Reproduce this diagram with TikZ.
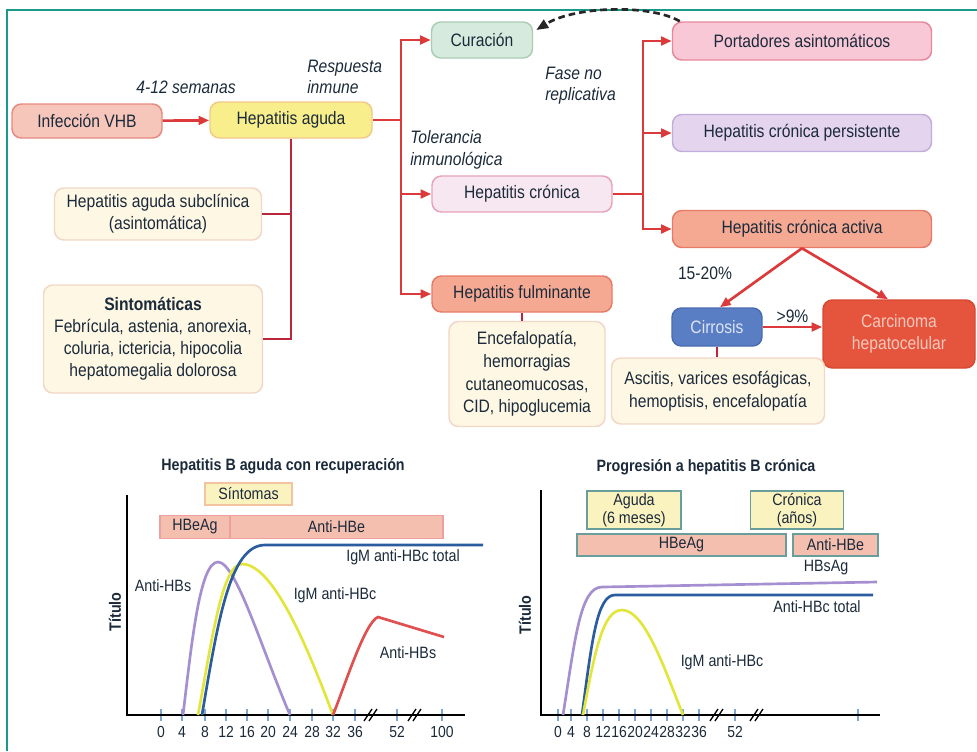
\documentclass[tikz,border=0pt]{standalone}
\usepackage{fontspec}
\setmainfont{Liberation Sans}[FakeStretch=0.87]
\usetikzlibrary{arrows.meta,calc}
\definecolor{txt}{HTML}{1B2A3A}
\definecolor{frameC}{HTML}{1A9A8A}
\definecolor{redl}{HTML}{DC3A3A}
\definecolor{dred}{HTML}{B8283A}
\definecolor{infF}{HTML}{F6C6BB}\definecolor{infD}{HTML}{E68A80}
\definecolor{hagF}{HTML}{F8EF8C}\definecolor{hagD}{HTML}{F2C88A}
\definecolor{curF}{HTML}{D6EBDD}\definecolor{curD}{HTML}{A9CDB5}
\definecolor{hcrF}{HTML}{F7E7F0}\definecolor{hcrD}{HTML}{E7A2B8}
\definecolor{salF}{HTML}{F5A993}\definecolor{salD}{HTML}{E67A66}
\definecolor{porF}{HTML}{F8C8D6}\definecolor{porD}{HTML}{E7879B}
\definecolor{perF}{HTML}{E4D4EE}\definecolor{perD}{HTML}{C3ACDC}
\definecolor{cirF}{HTML}{5A7EC4}\definecolor{cirD}{HTML}{4A6CB0}\definecolor{cirT}{HTML}{DDE5F5}
\definecolor{carF}{HTML}{E5553D}\definecolor{carD}{HTML}{D8472F}\definecolor{carT}{HTML}{F8C8BC}
\definecolor{crmF}{HTML}{FDF7E4}\definecolor{crmD}{HTML}{F3D6C6}
\definecolor{symF}{HTML}{FAF3C0}\definecolor{symD}{HTML}{F2C5A0}
\definecolor{barF}{HTML}{F5BFB0}\definecolor{barD}{HTML}{EEA0A0}
\definecolor{tealD}{HTML}{6A9E9A}
\definecolor{cPur}{HTML}{A58FD0}
\definecolor{cBlu}{HTML}{2B5D9E}
\definecolor{cYel}{HTML}{E2E63C}
\definecolor{cRed}{HTML}{E05050}
\definecolor{tickC}{HTML}{7FA8D0}
\tikzset{
  wh/.style 2 args={minimum width=#1*0.75pt, minimum height=#2*0.75pt},
  box/.style={rounded corners=7pt, draw, line width=1.1pt, inner sep=0pt, align=center},
  sqbox/.style={draw, line width=1pt, inner sep=0pt, align=center},
  rl/.style={draw=redl, line width=2pt},
  arr/.style={rl, -{Triangle[length=8pt,width=6.5pt]}},
  dl/.style={draw=dred, line width=1.8pt},
  lbl/.style={font=\fontsize{13.5}{16}\selectfont\itshape, align=left, inner sep=0pt},
  clbl/.style={font=\fontsize{12.3}{14}\selectfont, inner sep=0pt},
  ctit/.style={font=\fontsize{12.3}{14}\selectfont\bfseries, inner sep=0pt},
  tlab/.style={font=\fontsize{12}{14}\selectfont, inner sep=0pt},
  axisl/.style={line width=2.2pt, black},
  curve/.style={line width=2pt},
  brk/.style={line width=1pt, black}
}
\begin{document}
\begin{tikzpicture}[x=0.75pt,y=-0.75pt,every node/.style={text=txt},
  font=\fontsize{13.5}{16.5}\selectfont]
\useasboundingbox (0,0) rectangle (977,751);
\draw[frameC, line width=1pt] (7,751) -- (7,10) -- (977,10);

% ---------- flowchart nodes ----------
\node[box, wh={150}{34}, fill=infF, draw=infD] (inf) at (87,121) {Infección VHB};
\node[box, wh={162}{36}, fill=hagF, draw=hagD] (hag) at (291,120) {Hepatitis aguda};
\node[box, wh={101}{36}, fill=curF, draw=curD] (cur) at (482,40) {Curación};
\node[box, wh={180}{36}, fill=hcrF, draw=hcrD] (hcr) at (522,194) {Hepatitis crónica};
\node[box, wh={180}{36}, fill=salF, draw=salD] (hful) at (522,294) {Hepatitis fulminante};
\node[box, wh={259}{38}, fill=porF, draw=porD] (port) at (802,41) {Portadores asintomáticos};
\node[box, wh={259}{37}, fill=perF, draw=perD] (pers) at (802,133) {Hepatitis crónica persistente};
\node[box, wh={259}{37}, fill=salF, draw=salD] (act) at (802,229) {Hepatitis crónica activa};
\node[box, wh={90}{38}, fill=cirF, draw=cirD, text=cirT] (cirr) at (717,327) {Cirrosis};
\node[box, wh={152}{68}, fill=carF, draw=carD, text=carT] (carc) at (899,334) {Carcinoma\\hepatocelular};
\node[box, wh={156}{105}, fill=crmF, draw=crmD, font=\fontsize{13.5}{17}\selectfont] (fsym) at (527,374) {Encefalopatía,\\hemorragias\\cutaneomucosas,\\CID, hipoglucemia};
\node[box, wh={213}{66}, fill=crmF, draw=crmD, font=\fontsize{13.5}{17}\selectfont] (csym) at (718,391) {Ascitis, varices esofágicas,\\hemoptisis, encefalopatía};
\node[box, wh={207}{52}, fill=crmF, draw=crmD] (sub) at (158,214) {Hepatitis aguda subclínica\\(asintomática)};
\node[box, wh={219}{108}, fill=crmF, draw=crmD] (sint) at (153,339) {\textbf{Sintomáticas}\\Febrícula, astenia, anorexia,\\coluria, ictericia, hipocolia\\hepatomegalia dolorosa};

% ---------- labels ----------
\node[lbl] (l412) at (186,87) {4-12 semanas};
\node[lbl, anchor=west] (lresp) at (307,77) {Respuesta\\inmune};
\node[lbl, anchor=west] (ltol) at (410,150) {Tolerancia\\inmunológica};
\node[lbl, anchor=west] (lfase) at (545,86) {Fase no\\replicativa};
\node[inner sep=0pt] (l1520) at (705,273) {15-20\%};

% ---------- connectors ----------
\draw[arr] (inf) -- (hag);
\coordinate (t1) at (401,120);
\draw[rl] (hag.east) -- (t1);
\draw[arr] (t1) |- (cur.west);
\draw[arr] (t1) |- (hcr.west);
\draw[arr] (t1) |- (hful.west);
\coordinate (t2) at (643,194);
\draw[rl] (hcr.east) -- (t2);
\draw[arr] (t2) |- (port.west);
\draw[arr] (t2) |- (pers.west);
\draw[arr] (t2) |- (act.west);
\draw[arr] (act.south) -- ($(cirr.north)+(3,0)$);
\draw[arr] (act.south) -- ($(carc.north)+(-11,0)$);
\draw[arr] (cirr.east) -- node[above=2pt, inner sep=0pt] {>9\%} (cirr.east -| carc.west);
\draw[dl] (hful.south) -- (hful.south |- fsym.north);
\draw[dl] (cirr.south) -- (cirr.south |- csym.north);
\draw[dl] (hag.south) -- (hag.south |- sint.east) -- (sint.east);
\draw[dl] (sub.east) -- (hag.south |- sub.east);
\draw[line width=2pt, black!85, dash pattern=on 5pt off 3pt, -{Triangle[length=9pt,width=7pt]}]
  ($(port.north west)+(8,0)$) .. controls (650,4) and (575,6) .. ($(cur.east)+(3,-10)$);

% ---------- left chart ----------
\node[ctit] (t1tit) at (283,466) {Hepatitis B aguda con recuperación};
\node[sqbox, wh={87}{22}, fill=symF, draw=symD, font=\fontsize{12.3}{14}\selectfont] (bsin) at (248.5,494) {Síntomas};
\node[sqbox, wh={70}{23}, fill=barF, draw=barD, font=\fontsize{12.3}{14}\selectfont] (bhbe) at (195,527) {HBeAg};
\node[sqbox, wh={213}{23}, fill=barF, draw=barD, font=\fontsize{12.3}{14}\selectfont] (bahbe) at (336.5,527) {Anti-HBe};
\node[ctit, rotate=90] (tit1) at (115,612) {Título};
\foreach \x/\l in {161/0,182/4,205/8,226/12,247/16,268/20,290/24,312/28,333/32,355/36,397/52,442/100}{
  \draw[tickC, line width=0.8pt] (\x,709) -- (\x,721);
  \node[tlab] at (\x,732) {\l};
}
\draw[axisl] (127,495) -- (127,715) -- (465,715);
\foreach \x in {372,416}{
  \draw[brk] (\x-8,721) -- (\x,709);
  \draw[brk] (\x-3,721) -- (\x+5,709);
}
\draw[curve, cPur] (183,715) .. controls (192,640) and (200,562) .. (218,562) .. controls (236,562) and (262,650) .. (290,715);
\draw[curve, cYel] (198,715) .. controls (212,640) and (222,564) .. (242,564) .. controls (272,564) and (305,640) .. (333,715);
\draw[curve, cBlu] (202,715) .. controls (218,620) and (230,545) .. (265,545) -- (483,545);
\draw[curve, cRed] (333,715) .. controls (345,685) and (365,622) .. (378,617) -- (444,637);
\node[clbl] (lb1) at (403,557) {IgM anti-HBc total};
\node[clbl] (lb2) at (163,586) {Anti-HBs};
\node[clbl] (lb3) at (335,595) {IgM anti-HBc};
\node[clbl] (lb4) at (408,653) {Anti-HBs};

% ---------- right chart ----------
\node[ctit] (t2tit) at (706,467) {Progresión a hepatitis B crónica};
\node[sqbox, wh={94}{38}, fill=symF, draw=tealD, font=\fontsize{12.3}{13.5}\selectfont] (bag) at (634,510) {Aguda\\(6 meses)};
\node[sqbox, wh={93}{38}, fill=symF, draw=tealD, font=\fontsize{12.3}{13.5}\selectfont] (bcr) at (797,510) {Crónica\\(años)};
\node[sqbox, wh={209}{22}, fill=barF, draw=tealD, font=\fontsize{12.3}{14}\selectfont] (bhbe2) at (681.5,545) {HBeAg};
\node[sqbox, wh={85}{22}, fill=barF, draw=tealD, font=\fontsize{12.3}{14}\selectfont] (bahbe2) at (835.5,545) {Anti-HBe};
\node[ctit, rotate=90] (tit2) at (525,615) {Título};
\foreach \x/\l in {558/0,571/4,587/8,603/12,619/16,635/20,651/24,667/28,683/32,699/36,735/52}{
  \draw[tickC, line width=0.8pt] (\x,709) -- (\x,721);
  \node[tlab] at (\x,732) {\l};
}
\draw[tickC, line width=0.8pt] (858,709) -- (858,721);
\draw[axisl] (541,490) -- (541,715) -- (880,715);
\foreach \x in {718,758}{
  \draw[brk] (\x-8,721) -- (\x,709);
  \draw[brk] (\x-3,721) -- (\x+5,709);
}
\draw[curve, cPur] (563,715) .. controls (575,640) and (580,587) .. (602,587) -- (877,582);
\draw[curve, cBlu] (582,715) .. controls (592,640) and (597,595) .. (615,595) -- (873,595);
\draw[curve, cYel] (583,715) .. controls (595,650) and (603,610) .. (622,610) .. controls (645,610) and (665,670) .. (683,715);
\node[clbl] (rb0) at (826,568) {HBsAg};
\node[clbl] (rb1) at (817,607) {Anti-HBc total};
\node[clbl] (rb2) at (722,662) {IgM anti-HBc};
\end{tikzpicture}
\end{document}
